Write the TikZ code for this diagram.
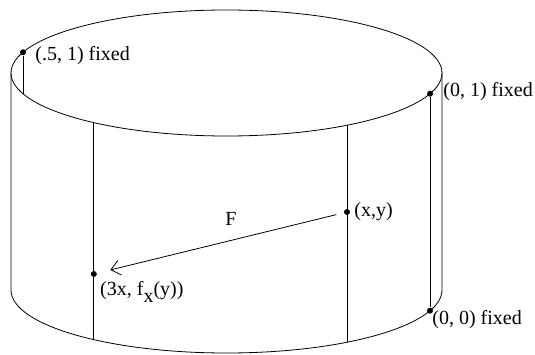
\documentclass[tikz,border=0pt]{standalone}
\usepackage{fontspec}
\setmainfont{Liberation Serif}
\usetikzlibrary{arrows.meta,calc}
\begin{document}
\begin{tikzpicture}[x=1pt,y=1pt,line width=0.8pt,
    mdot/.style={circle,fill=black,inner sep=0pt,minimum size=6pt},
    lbl/.style={font=\fontsize{20}{22}\selectfont,inner sep=0pt,anchor=base west}]
        \useasboundingbox (0,0) rectangle (535,354);
        % the cylinder
        \draw (226.5,281) ellipse [x radius=215.5, y radius=63];
        \draw (11,281) -- (11,64) arc[start angle=180, end angle=360, x radius=215.5, y radius=63] -- (442,281);
        % fixed points and lines
        \node[mdot] at ($(226.5,281)+(160.8:215.5 and 63)$) (A) {};
        \coordinate (A1) at ($(226.5,281)+(199.2:215.5 and 63)$);
        \node[mdot] at ($(226.5,281)+(-19.2:215.5 and 63)$) (B) {};
        \node[mdot] at ($(226.5,64)+(-19.2:215.5 and 63)$) (C) {};
        \coordinate (P1) at ($(226.5,281)+(232:215.5 and 63)$);
        \coordinate (P2) at ($(226.5,64)+(232:215.5 and 63)$);
        \coordinate (Q1) at ($(226.5,281)+(304:215.5 and 63)$);
        \coordinate (Q2) at ($(226.5,64)+(304:215.5 and 63)$);
        \node[mdot] at (Q1 |- 0,142) (D) {};
        \node[mdot] at (P1 |- 0,80) (E) {};
        \node[lbl] at ([shift={(12,-8.4)}]A.center) (Alab) {(.5, 1) fixed};
        \node[lbl] at ([shift={(13,-2.8)}]B.center) (Blab) {(0, 1) fixed};
        \node[lbl] at ([shift={(2,-13.3)}]C.center) (Clab) {(0, 0) fixed};
        \node[lbl] at ([shift={(7,-4)}]D.center) (Dlab) {(x,y)};
        \node[lbl] at ([shift={(6,-21)}]E.center) (Elab) {(3x, f\raisebox{-7pt}{x}(y))};
        \draw (A) -- (A1);
        \draw (B) -- (C);
        \draw (P1) -- (P2);
        \draw (Q1) -- (Q2);
        \draw[-{Straight Barb[length=9pt,width=15pt]}, shorten <=11pt, shorten >=17pt] (D.center) -- node[pos=0.458, anchor=base, yshift=15pt, font=\fontsize{20}{22}\selectfont, inner sep=0pt] (F) {F} (E.center);
    \end{tikzpicture}
\end{document}
